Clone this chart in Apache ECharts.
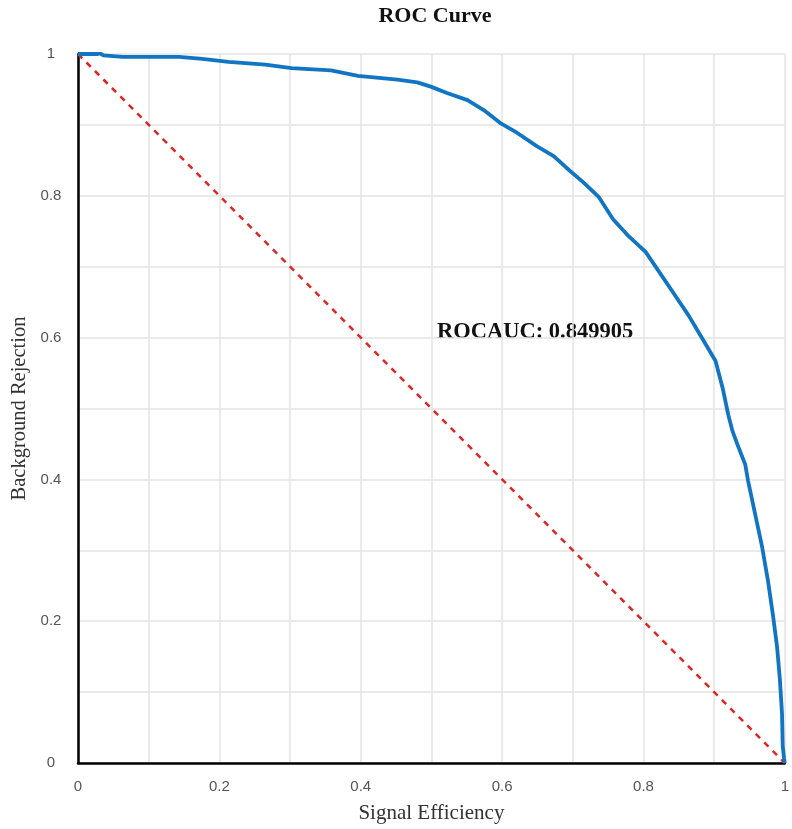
<!DOCTYPE html>
<html>
<head>
<meta charset="utf-8">
<script src="https://cdn.jsdelivr.net/npm/echarts@6/dist/echarts.min.js"></script>
<style>html,body{margin:0;padding:0;background:#fff}#c{width:792px;height:829px}</style>
</head>
<body>
<div id="c"></div>
<script>
const sigEff = [0, 0.028, 0.031, 0.036, 0.063, 0.10, 0.143, 0.176, 0.213, 0.265, 0.302, 0.358, 0.396, 0.452, 0.48, 0.499, 0.522, 0.551, 0.574, 0.597, 0.621, 0.649, 0.673, 0.695, 0.715, 0.737, 0.757, 0.779, 0.803, 0.822, 0.841, 0.864, 0.883, 0.902, 0.912, 0.920, 0.926, 0.933, 0.944, 0.948, 0.958, 0.968, 0.976, 0.983, 0.989, 0.993, 0.996, 0.997, 0.999, 1.0];
const bkgRej = [1.0, 1.0, 1.001, 0.998, 0.996, 0.996, 0.996, 0.993, 0.989, 0.985, 0.980, 0.977, 0.969, 0.964, 0.960, 0.954, 0.945, 0.935, 0.921, 0.903, 0.889, 0.870, 0.856, 0.836, 0.819, 0.798, 0.767, 0.743, 0.721, 0.693, 0.665, 0.631, 0.599, 0.567, 0.529, 0.491, 0.468, 0.449, 0.421, 0.398, 0.351, 0.304, 0.258, 0.210, 0.164, 0.118, 0.070, 0.024, 0.006, 0.0];
const diagX = [0, 1];
const diagY = [1, 0];
const titleText = 'ROC Curve';
const aucText = 'ROCAUC: 0.849905';
const xName = 'Signal Efficiency';
const yName = 'Background Rejection';

const serif = '"Liberation Serif", "DejaVu Serif", serif';
const sans = '"Liberation Sans", "DejaVu Sans", sans-serif';
const chart = echarts.init(document.getElementById('c'));
const fmt = v => {
  const r = Math.round(v * 10);
  if (r % 2 !== 0) return '';
  return String(r / 10);
};
chart.setOption({
  animation: false,
  grid: { left: 78, right: 2, top: 54, bottom: 62, containLabel: false },
  graphic: [
    { type: 'text', x: 435, y: 5, style: { text: titleText, font: 'bold 22px ' + serif, fill: '#111', align: 'center', verticalAlign: 'top' } },
    { type: 'text', x: 437, y: 321, style: { text: aucText, font: 'bold 22.5px ' + serif, fill: '#111', align: 'left', verticalAlign: 'top' } }
  ],
  xAxis: {
    type: 'value', min: 0, max: 1, interval: 0.1,
    name: xName, nameLocation: 'middle', nameGap: 40,
    nameTextStyle: { fontFamily: serif, fontSize: 21, color: '#333' },
    axisLine: { show: true, onZero: false, lineStyle: { color: '#000', width: 2.5 } },
    axisTick: { show: false },
    axisLabel: { formatter: fmt, fontFamily: sans, fontSize: 15, color: '#555', margin: 16 },
    splitLine: { show: true, lineStyle: { color: '#e3e3e3', width: 1.5 } }
  },
  yAxis: {
    type: 'value', min: 0, max: 1, interval: 0.1,
    name: yName, nameLocation: 'middle', nameGap: 46,
    nameTextStyle: { fontFamily: serif, fontSize: 20.5, color: '#333' },
    axisLine: { show: true, onZero: false, lineStyle: { color: '#000', width: 2.5 } },
    axisTick: { show: false },
    axisLabel: { formatter: fmt, fontFamily: sans, fontSize: 15, color: '#555', margin: 27, align: 'center', padding: [0, 0, 10, 0] },
    splitLine: { show: true, lineStyle: { color: '#e3e3e3', width: 1.5 } }
  },
  series: [
    {
      type: 'line', data: diagX.map((x, i) => [x, diagY[i]]),
      showSymbol: false, z: 3,
      lineStyle: { color: '#e02424', width: 2.5, type: [6, 6] }
    },
    {
      type: 'line', data: sigEff.map((x, i) => [x, bkgRej[i]]),
      showSymbol: false, z: 4,
      lineStyle: { color: '#1175c4', width: 3.8 }
    }
  ]
});
</script>
</body>
</html>
